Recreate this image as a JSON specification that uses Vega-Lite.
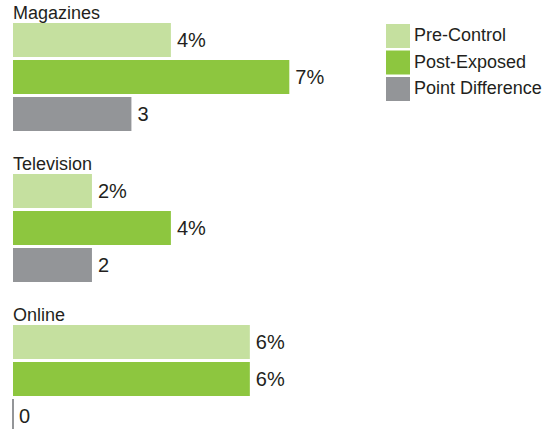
{
  "$schema": "https://vega.github.io/schema/vega-lite/v6.json",
  "padding": {"left": 12, "top": 5, "right": 0, "bottom": 0},
  "background": "white",
  "data": {"values": [
    {"media": "Magazines", "measure": "Pre-Control", "value": 4, "label": "4%"},
    {"media": "Magazines", "measure": "Post-Exposed", "value": 7, "label": "7%"},
    {"media": "Magazines", "measure": "Point Difference", "value": 3, "label": "3"},
    {"media": "Television", "measure": "Pre-Control", "value": 2, "label": "2%"},
    {"media": "Television", "measure": "Post-Exposed", "value": 4, "label": "4%"},
    {"media": "Television", "measure": "Point Difference", "value": 2, "label": "2"},
    {"media": "Online", "measure": "Pre-Control", "value": 6, "label": "6%"},
    {"media": "Online", "measure": "Post-Exposed", "value": 6, "label": "6%"},
    {"media": "Online", "measure": "Point Difference", "value": 0, "label": "0"}
  ]},
  "facet": {
    "row": {
      "field": "media", "type": "nominal",
      "sort": ["Magazines", "Television", "Online"],
      "title": null,
      "header": {
        "labelOrient": "top", "labelAnchor": "start", "labelAngle": 0,
        "labelFontSize": 18, "labelFont": "Liberation Sans", "labelColor": "#231f20",
        "labelPadding": 0, "labelBaseline": "top"
      }
    }
  },
  "spacing": {"row": 23},
  "spec": {
    "width": 300,
    "height": {"step": 37},
    "encoding": {
      "y": {"field": "measure", "type": "nominal", "sort": ["Pre-Control", "Post-Exposed", "Point Difference"], "axis": null, "scale": {"paddingInner": 0.08, "paddingOuter": 0}},
      "x": {"field": "value", "type": "quantitative", "axis": null, "scale": {"domain": [0, 7.6]}}
    },
    "layer": [
      {
        "mark": {"type": "bar", "stroke": "#939598"},
        "encoding": {
          "color": {
            "field": "measure", "type": "nominal",
            "scale": {"domain": ["Pre-Control", "Post-Exposed", "Point Difference"], "range": ["#c5e09f", "#8dc63f", "#939598"]},
            "legend": {
              "orient": "none", "legendX": 373, "legendY": 1, "title": null,
              "symbolType": "square", "symbolSize": 576, "symbolStrokeWidth": 0,
              "labelFontSize": 18, "labelFont": "Liberation Sans", "labelColor": "#231f20",
              "rowPadding": 2.5, "labelOffset": 4
            }
          },
          "strokeWidth": {"condition": {"test": "datum.value === 0", "value": 2}, "value": 0}
        }
      },
      {
        "mark": {"type": "text", "align": "left", "baseline": "middle", "dx": 6, "dy": 1, "fontSize": 20, "font": "Liberation Sans", "color": "#231f20"},
        "encoding": {"text": {"field": "label"}}
      }
    ]
  },
  "config": {"view": {"stroke": null}}
}
